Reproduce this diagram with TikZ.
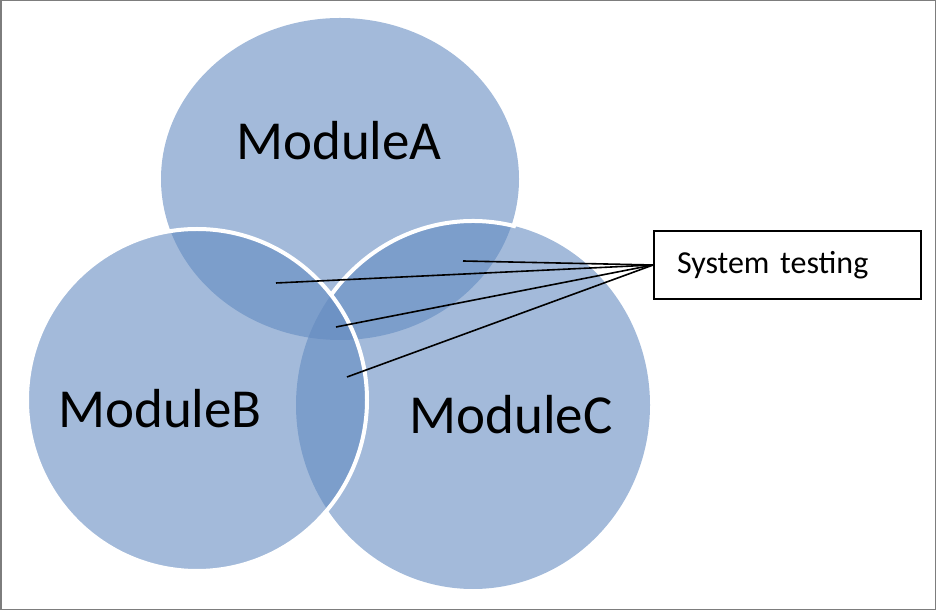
\documentclass[tikz,border=0pt]{standalone}
\usepackage{fontspec}
\setmainfont{Carlito}
\usetikzlibrary{positioning}
\definecolor{vennblue}{RGB}{98,138,192}
\definecolor{framegray}{RGB}{125,125,125}

\begin{document}
\begin{tikzpicture}[x=1pt,y=1pt,
    venn/.style={fill=vennblue,fill opacity=0.59},
    rim/.style={draw=white,line width=4pt},
    modlabel/.style={anchor=base,font=\fontsize{55}{60}\selectfont},
    callout/.style={rectangle,draw,line width=1.7pt,minimum width=267pt,minimum height=68pt,
        text width=221pt,inner xsep=23pt,align=left,font=\fontsize{32}{36}\selectfont},
    lead/.style={line width=1.6pt}]
    \useasboundingbox (0,0) rectangle (936,610);
    \draw[framegray,line width=1.5pt] (0.75,0.75) rectangle (935.25,609.25);

    % Circles
    \fill[venn] (340,431) ellipse [x radius=179pt,y radius=161pt];
    \fill[venn] (197,210) ellipse [x radius=170pt,y radius=171pt];
    \fill[venn] (473,205) ellipse [x radius=177pt,y radius=184pt];

    % White rims
    \draw[rim] (473,205) ++(143.5:177pt and 184pt)
        arc [start angle=143.5,end angle=76,x radius=177pt,y radius=184pt];
    \draw[rim] (197,210) ellipse [x radius=170pt,y radius=171pt];

    \node[modlabel] (modA) at (339,450.5) {ModuleA};
    \node[modlabel] (modB) at (160,182) {ModuleB};
    \node[modlabel] (modC) at (511,176) {ModuleC};

    \node[callout] (sys) at (787.5,345) {System testing};

    % Leader lines
    \coordinate (ptAC) at (463,349);
    \coordinate (ptAB) at (276,327);
    \coordinate (ptABC) at (336,283);
    \coordinate (ptBC) at (347,233);
    \draw[lead] (sys.west) -- (ptAC);
    \draw[lead] (sys.west) -- (ptAB);
    \draw[lead] (sys.west) -- (ptABC);
    \draw[lead] (sys.west) -- (ptBC);
\end{tikzpicture}
\end{document}
